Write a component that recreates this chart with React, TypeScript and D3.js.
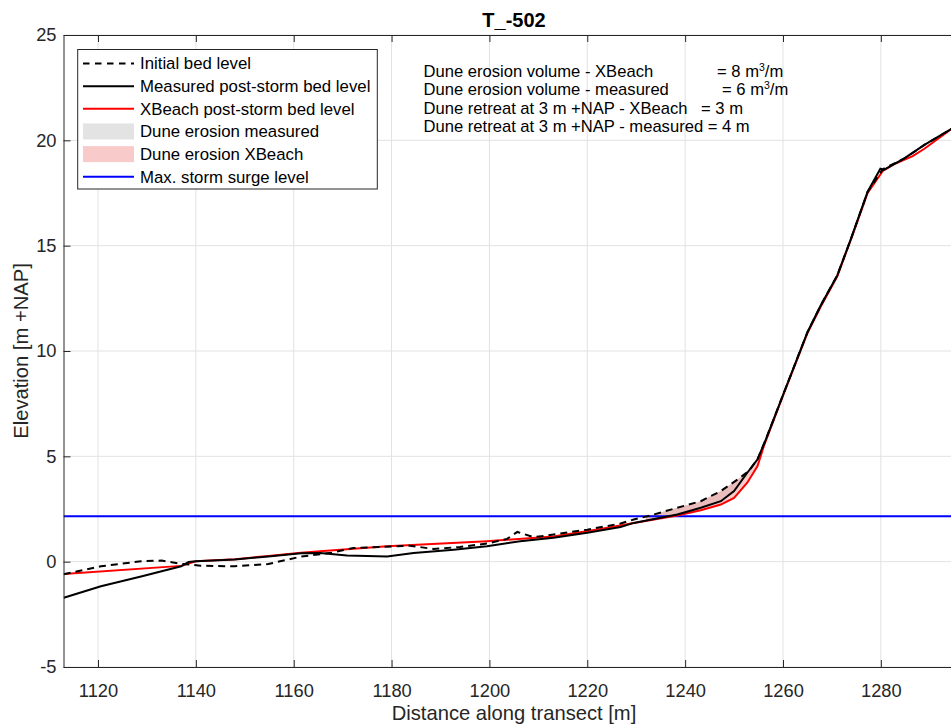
import React, { useRef, useEffect } from 'react';
import * as d3 from 'd3';

const FONT = '"Liberation Sans", Arial, Helvetica, sans-serif';

// initial bed level (dashed)
const initialX = [1113, 1120.6, 1128.8, 1133, 1137, 1141, 1147.9, 1154.8, 1161.5, 1167.7, 1172.2, 1178, 1183.8, 1188.6, 1194, 1199.5, 1203.6, 1205.7, 1209, 1211.8, 1220, 1226.8, 1229.5, 1233, 1238.4, 1243.2, 1247.3, 1250.7, 1253, 1254.8, 1256.5, 1260.2, 1265, 1267.7, 1271.1, 1273.9, 1277.3, 1280.4, 1284.8, 1288.9, 1294.6, 1297];
const initialZ = [-0.6, -0.22, 0.02, 0.05, -0.1, -0.19, -0.22, -0.11, 0.24, 0.42, 0.65, 0.7, 0.76, 0.6, 0.7, 0.86, 1.08, 1.41, 1.17, 1.24, 1.52, 1.81, 2.0, 2.2, 2.56, 2.87, 3.35, 3.9, 4.3, 4.86, 5.81, 8.03, 10.89, 12.16, 13.59, 15.33, 17.56, 18.63, 19.14, 19.78, 20.57, 20.9];

// measured post-storm bed level
const measuredX = [1113, 1120.6, 1128.8, 1137, 1138.5, 1140, 1148, 1154.8, 1161.5, 1165.4, 1170.9, 1179.1, 1184.5, 1192.7, 1199.5, 1206.3, 1213.1, 1220, 1226.8, 1229.5, 1238.4, 1243.2, 1247.3, 1250, 1252.7, 1254.8, 1256.5, 1260.2, 1265, 1267.7, 1271.1, 1273.9, 1277.3, 1279.9, 1280.6, 1284.8, 1288.9, 1294.6, 1297];
const measuredZ = [-1.71, -1.17, -0.7, -0.22, -0.02, 0.02, 0.1, 0.25, 0.4, 0.41, 0.29, 0.25, 0.41, 0.57, 0.73, 0.97, 1.13, 1.37, 1.65, 1.84, 2.24, 2.56, 2.87, 3.35, 4.22, 4.86, 5.81, 8.03, 10.89, 12.16, 13.59, 15.33, 17.56, 18.65, 18.6, 19.14, 19.78, 20.57, 20.9];

// XBeach post-storm bed level
const xbeachX = [1113, 1137, 1140, 1148, 1154.8, 1161.5, 1165.4, 1179.1, 1199.5, 1213.1, 1222.7, 1229.5, 1238.4, 1243.2, 1247.3, 1250, 1252.7, 1254.8, 1256.1, 1260.2, 1265, 1267.7, 1271.1, 1273.9, 1277.3, 1280.4, 1283, 1286.5, 1288.9, 1294.6, 1297];
const xbeachZ = [-0.58, -0.2, 0.02, 0.12, 0.27, 0.42, 0.49, 0.73, 0.97, 1.2, 1.55, 1.84, 2.19, 2.44, 2.71, 3.03, 3.75, 4.54, 5.49, 8.0, 10.85, 12.1, 13.55, 15.3, 17.5, 18.55, 18.9, 19.25, 19.6, 20.57, 20.9];

const surgeLevel = 2.15;
const erosionStart = 1232;
const erosionEnd = 1256;

const xTicks = [1120, 1140, 1160, 1180, 1200, 1220, 1240, 1260, 1280];
const yTicks = [-5, 0, 5, 10, 15, 20, 25];

const legendItems = [
  { label: 'Initial bed level', kind: 'dash', color: '#000000' },
  { label: 'Measured post-storm bed level', kind: 'line', color: '#000000' },
  { label: 'XBeach post-storm bed level', kind: 'line', color: '#ff0000' },
  { label: 'Dune erosion measured', kind: 'fill', color: 'rgb(200,200,200)' },
  { label: 'Dune erosion XBeach', kind: 'fill', color: 'rgb(242,150,150)' },
  { label: 'Max. storm surge level', kind: 'line', color: '#0000ff' },
];

const infoLines = [
  { left: 'Dune erosion volume - XBeach', right: '= 8 m', sup: '3', tail: '/m', rx: 717 },
  { left: 'Dune erosion volume - measured', right: '= 6 m', sup: '3', tail: '/m', rx: 722 },
  { left: 'Dune retreat at 3 m +NAP - XBeach', right: '= 3 m', sup: '', tail: '', rx: 701 },
  { left: 'Dune retreat at 3 m +NAP - measured = 4 m', right: '', sup: '', tail: '', rx: 0 },
];

const interp = (xs, ys, x) => {
  if (x <= xs[0]) return ys[0];
  for (let i = 1; i < xs.length; i++) {
    if (x <= xs[i]) {
      const t = (x - xs[i - 1]) / (xs[i] - xs[i - 1]);
      return ys[i - 1] + t * (ys[i] - ys[i - 1]);
    }
  }
  return ys[ys.length - 1];
};

const erosionBand = (postX, postZ) => {
  const xs = Array.from(new Set([erosionStart, erosionEnd, ...initialX, ...postX]))
    .filter(x => x >= erosionStart && x <= erosionEnd)
    .sort((a, b) => a - b);
  return xs.map(x => {
    const top = interp(initialX, initialZ, x);
    const bot = interp(postX, postZ, x);
    return { x, top, bot: Math.min(top, bot) };
  });
};

const App = () => {
  const ref = useRef(null);

  useEffect(() => {
    const W = 951, H = 726;
    const left = 63.5, top = 35, right = 965, bottom = 667;

    const svg = d3.select(ref.current)
      .attr('width', W)
      .attr('height', H)
      .style('font-family', FONT);
    svg.selectAll('*').remove();

    const x = d3.scaleLinear().domain([1112.95, 1297.2]).range([left, right]);
    const y = d3.scaleLinear().domain([-5, 25]).range([bottom, top]);

    svg.append('rect').attr('width', W).attr('height', H).attr('fill', '#ffffff');

    svg.append('defs').append('clipPath').attr('id', 'plotclip')
      .append('rect').attr('x', left).attr('y', top)
      .attr('width', right - left).attr('height', bottom - top);

    // grid
    const grid = svg.append('g').attr('stroke', '#e2e2e2').attr('stroke-width', 1);
    xTicks.forEach(t => {
      grid.append('line').attr('x1', x(t)).attr('x2', x(t)).attr('y1', top).attr('y2', bottom);
    });
    yTicks.forEach(t => {
      grid.append('line').attr('x1', left).attr('x2', right).attr('y1', y(t)).attr('y2', y(t));
    });

    const plot = svg.append('g').attr('clip-path', 'url(#plotclip)');

    // erosion fills
    const area = d3.area().x(d => x(d.x)).y0(d => y(d.bot)).y1(d => y(d.top));
    plot.append('path').datum(erosionBand(measuredX, measuredZ))
      .attr('d', area).attr('fill', 'rgb(200,200,200)').attr('fill-opacity', 0.5);
    plot.append('path').datum(erosionBand(xbeachX, xbeachZ))
      .attr('d', area).attr('fill', 'rgb(242,150,150)').attr('fill-opacity', 0.5);

    // surge level
    plot.append('line')
      .attr('x1', left).attr('x2', right)
      .attr('y1', y(surgeLevel)).attr('y2', y(surgeLevel))
      .attr('stroke', '#0000ff').attr('stroke-width', 2);

    const line = d3.line().x(d => x(d[0])).y(d => y(d[1]));
    const pairs = (xs, zs) => xs.map((v, i) => [v, zs[i]]);

    plot.append('path').datum(pairs(xbeachX, xbeachZ))
      .attr('d', line).attr('fill', 'none').attr('stroke', '#ff0000').attr('stroke-width', 2);
    plot.append('path').datum(pairs(initialX, initialZ))
      .attr('d', line).attr('fill', 'none').attr('stroke', '#000000').attr('stroke-width', 2)
      .attr('stroke-dasharray', '7,5');
    plot.append('path').datum(pairs(measuredX, measuredZ))
      .attr('d', line).attr('fill', 'none').attr('stroke', '#000000').attr('stroke-width', 2);

    // axes
    const axisColor = '#262626';
    const fmt = d => String(d);
    const xAxis = svg.append('g')
      .attr('transform', `translate(0,${bottom})`)
      .call(d3.axisBottom(x).tickValues(xTicks).tickSizeInner(-7).tickSizeOuter(0).tickPadding(17).tickFormat(fmt));
    const yAxis = svg.append('g')
      .attr('transform', `translate(${left},0)`)
      .call(d3.axisLeft(y).tickValues(yTicks).tickSizeInner(-7).tickSizeOuter(0).tickPadding(7).tickFormat(fmt));
    const xTop = svg.append('g')
      .attr('transform', `translate(0,${top})`)
      .call(d3.axisTop(x).tickValues(xTicks).tickSizeInner(-7).tickSizeOuter(0).tickFormat(() => ''));

    [xAxis, yAxis, xTop].forEach(g => {
      g.select('.domain').attr('stroke', axisColor).attr('stroke-width', 1);
      g.selectAll('.tick line').attr('stroke', axisColor).attr('stroke-width', 1);
      g.selectAll('.tick text').attr('fill', axisColor).style('font-size', '18.3px').style('font-family', FONT);
    });

    // labels
    svg.append('text')
      .attr('x', 514).attr('y', 27.3)
      .attr('text-anchor', 'middle')
      .style('font-size', '20px').style('font-weight', 'bold')
      .attr('fill', '#000000')
      .text('T_-502');

    svg.append('text')
      .attr('x', 514).attr('y', 720)
      .attr('text-anchor', 'middle')
      .style('font-size', '20.2px')
      .attr('fill', axisColor)
      .text('Distance along transect [m]');

    svg.append('text')
      .attr('transform', `translate(28,351) rotate(-90)`)
      .attr('text-anchor', 'middle')
      .style('font-size', '20.2px')
      .attr('fill', axisColor)
      .text('Elevation [m +NAP]');

    // info text
    const info = svg.append('g').style('font-size', '16.6px').attr('fill', '#000000');
    infoLines.forEach((l, i) => {
      const by = 76.5 + i * 18.6;
      info.append('text').attr('x', 423.5).attr('y', by).text(l.left);
      if (l.right) {
        const t = info.append('text').attr('x', l.rx).attr('y', by);
        t.append('tspan').text(l.right);
        if (l.sup) {
          t.append('tspan').attr('dy', -6).style('font-size', '10.5px').text(l.sup);
          t.append('tspan').attr('dy', 6).text(l.tail);
        }
      }
    });

    // legend
    const lg = svg.append('g');
    lg.append('rect')
      .attr('x', 77.7).attr('y', 49.5).attr('width', 299.6).attr('height', 139.5)
      .attr('fill', '#ffffff').attr('stroke', axisColor).attr('stroke-width', 1);
    legendItems.forEach((it, i) => {
      const cy = 63.5 + i * 22.65;
      if (it.kind === 'fill') {
        lg.append('rect').attr('x', 83).attr('y', cy - 8).attr('width', 51).attr('height', 16)
          .attr('fill', it.color).attr('fill-opacity', 0.5);
      } else {
        lg.append('line').attr('x1', 83).attr('x2', 134).attr('y1', cy).attr('y2', cy)
          .attr('stroke', it.color).attr('stroke-width', 2)
          .attr('stroke-dasharray', it.kind === 'dash' ? '6.5,5.5' : null);
      }
      lg.append('text').attr('x', 140).attr('y', cy).attr('dy', '0.35em')
        .style('font-size', '16.8px').attr('fill', '#000000').text(it.label);
    });
  }, []);

  return <svg ref={ref} style={{ position: 'absolute', left: 0, top: 0, display: 'block' }}></svg>;
};

export default App;
